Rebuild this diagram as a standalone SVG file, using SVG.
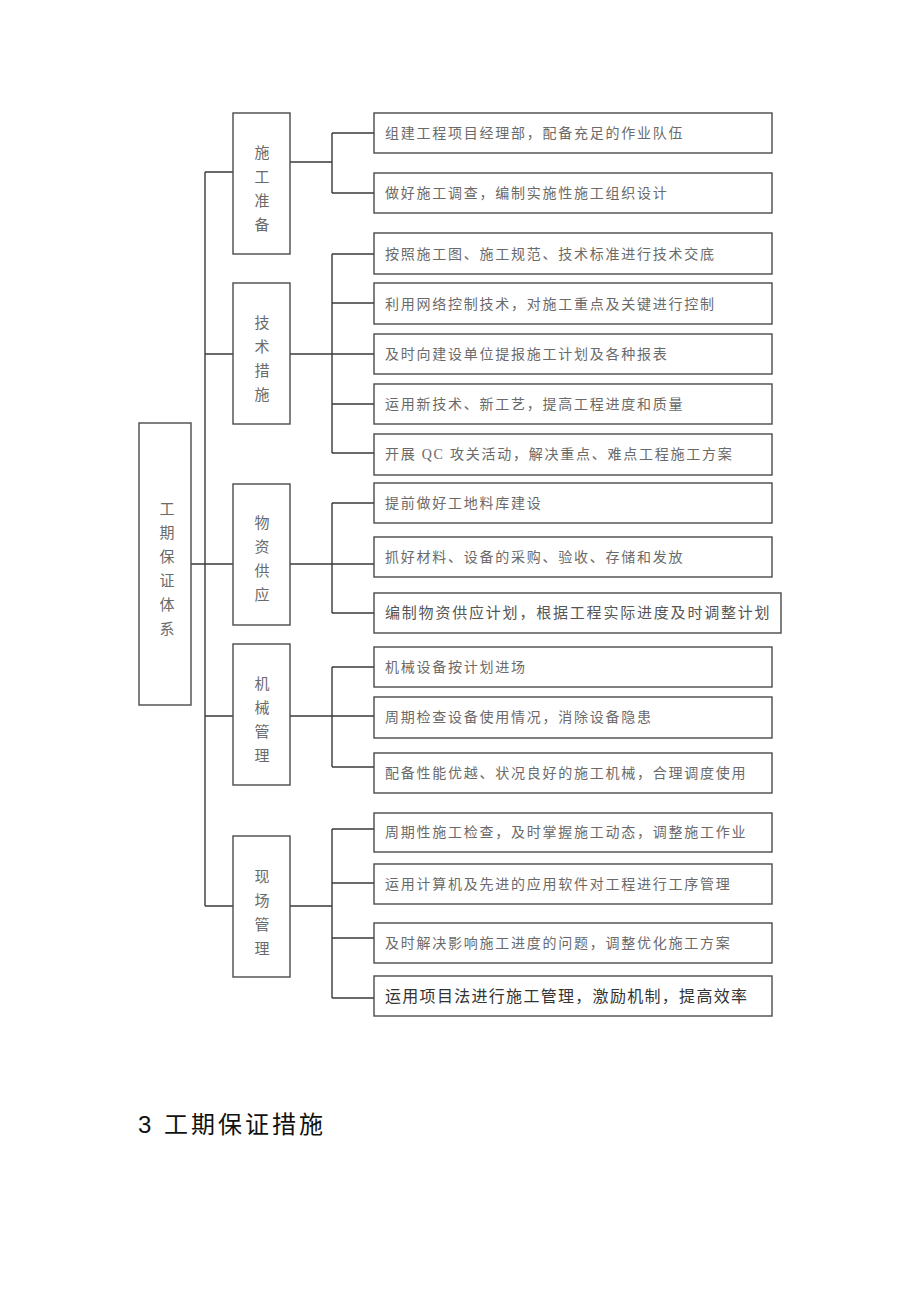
<svg xmlns="http://www.w3.org/2000/svg" width="920" height="1301" viewBox="0 0 920 1301">
<style>
.box{fill:#fff;stroke:#4a4a4a;stroke-width:1.4}
.ln{fill:none;stroke:#3a3a3a;stroke-width:1.4}
.vt{font-family:"Liberation Serif","Noto Sans CJK SC",serif;font-size:15px;fill:#6a6a6a;text-anchor:middle}
.it{font-family:"Liberation Serif","Noto Sans CJK SC",serif;font-size:14px;letter-spacing:1.75px;fill:#6a6a6a}
.big{font-size:15px;letter-spacing:1.8px;fill:#555}
.title{font-family:"Liberation Sans","Noto Sans CJK SC",sans-serif;font-size:24px;letter-spacing:3px;fill:#111}
</style>
<rect width="920" height="1301" fill="#fff"/>
<g id="connectors">
<path class="ln" d="M205 172V906M191 564H233M205 172H233M205 354H233M205 716H233M205 906H233"/>
<path class="ln" d="M290 162H332M290 354H332M290 564H332M290 716H332M290 906H332"/>
<path class="ln" d="M332 133V193M332 254V453M332 503V613M332 667V767M332 829V998"/>
<path class="ln" d="M332 133H374M332 193H374M332 254H374M332 303H374M332 354H374M332 404H374M332 453H374M332 503H374M332 564H374M332 613H374M332 667H374M332 716H374M332 767H374M332 829H374M332 883H374M332 938H374M332 998H374"/>
</g>
<g id="root">
<rect class="box" x="139" y="423" width="52" height="282"/>
<text class="vt" x="167" y="514">工</text>
<text class="vt" x="167" y="538">期</text>
<text class="vt" x="167" y="562">保</text>
<text class="vt" x="167" y="586">证</text>
<text class="vt" x="167" y="610">体</text>
<text class="vt" x="167" y="634">系</text>
</g>
<g id="m1">
<rect class="box" x="233" y="113" width="57" height="141"/>
<text class="vt" x="262" y="158">施</text>
<text class="vt" x="262" y="182">工</text>
<text class="vt" x="262" y="206">准</text>
<text class="vt" x="262" y="230">备</text>
</g>
<g id="m2">
<rect class="box" x="233" y="283" width="57" height="141"/>
<text class="vt" x="262" y="328">技</text>
<text class="vt" x="262" y="352">术</text>
<text class="vt" x="262" y="376">措</text>
<text class="vt" x="262" y="400">施</text>
</g>
<g id="m3">
<rect class="box" x="233" y="484" width="57" height="141"/>
<text class="vt" x="262" y="528">物</text>
<text class="vt" x="262" y="552">资</text>
<text class="vt" x="262" y="576">供</text>
<text class="vt" x="262" y="600">应</text>
</g>
<g id="m4">
<rect class="box" x="233" y="644" width="57" height="141"/>
<text class="vt" x="262" y="689">机</text>
<text class="vt" x="262" y="713">械</text>
<text class="vt" x="262" y="737">管</text>
<text class="vt" x="262" y="761">理</text>
</g>
<g id="m5">
<rect class="box" x="233" y="836" width="57" height="141"/>
<text class="vt" x="262" y="882">现</text>
<text class="vt" x="262" y="906">场</text>
<text class="vt" x="262" y="930">管</text>
<text class="vt" x="262" y="954">理</text>
</g>
<g id="r1-1"><rect class="box" x="374" y="113" width="398" height="40"/><text class="it" x="385" y="138">组建工程项目经理部，配备充足的作业队伍</text></g>
<g id="r1-2"><rect class="box" x="374" y="173" width="398" height="40"/><text class="it" x="385" y="198">做好施工调查，编制实施性施工组织设计</text></g>
<g id="r2-1"><rect class="box" x="374" y="233" width="398" height="41"/><text class="it" x="385" y="259">按照施工图、施工规范、技术标准进行技术交底</text></g>
<g id="r2-2"><rect class="box" x="374" y="283" width="398" height="41"/><text class="it" x="385" y="309">利用网络控制技术，对施工重点及关键进行控制</text></g>
<g id="r2-3"><rect class="box" x="374" y="334" width="398" height="40"/><text class="it" x="385" y="359">及时向建设单位提报施工计划及各种报表</text></g>
<g id="r2-4"><rect class="box" x="374" y="384" width="398" height="40"/><text class="it" x="385" y="409">运用新技术、新工艺，提高工程进度和质量</text></g>
<g id="r2-5"><rect class="box" x="374" y="434" width="398" height="41"/><text class="it" x="385" y="459">开展 QC 攻关活动，解决重点、难点工程施工方案</text></g>
<g id="r3-1"><rect class="box" x="374" y="483" width="398" height="40"/><text class="it" x="385" y="508">提前做好工地料库建设</text></g>
<g id="r3-2"><rect class="box" x="374" y="537" width="398" height="40"/><text class="it" x="385" y="562">抓好材料、设备的采购、验收、存储和发放</text></g>
<g id="r3-3"><rect class="box" x="374" y="593" width="407" height="40"/><text class="it big" x="385" y="618">编制物资供应计划，根据工程实际进度及时调整计划</text></g>
<g id="r4-1"><rect class="box" x="374" y="647" width="398" height="40"/><text class="it" x="385" y="672">机械设备按计划进场</text></g>
<g id="r4-2"><rect class="box" x="374" y="697" width="398" height="41"/><text class="it" x="385" y="722">周期检查设备使用情况，消除设备隐患</text></g>
<g id="r4-3"><rect class="box" x="374" y="753" width="398" height="40"/><text class="it" x="385" y="778">配备性能优越、状况良好的施工机械，合理调度使用</text></g>
<g id="r5-1"><rect class="box" x="374" y="813" width="398" height="39"/><text class="it" x="385" y="837">周期性施工检查，及时掌握施工动态，调整施工作业</text></g>
<g id="r5-2"><rect class="box" x="374" y="864" width="398" height="40"/><text class="it" x="385" y="889">运用计算机及先进的应用软件对工程进行工序管理</text></g>
<g id="r5-3"><rect class="box" x="374" y="923" width="398" height="40"/><text class="it" x="385" y="948">及时解决影响施工进度的问题，调整优化施工方案</text></g>
<g id="r5-4"><rect class="box" x="374" y="976" width="398" height="40"/><text class="it" x="385" y="1002" style="font-size:16px;letter-spacing:1.3px;fill:#333">运用项目法进行施工管理，激励机制，提高效率</text></g>
<text class="title" x="138" y="1133">3 工期保证措施</text>
</svg>
